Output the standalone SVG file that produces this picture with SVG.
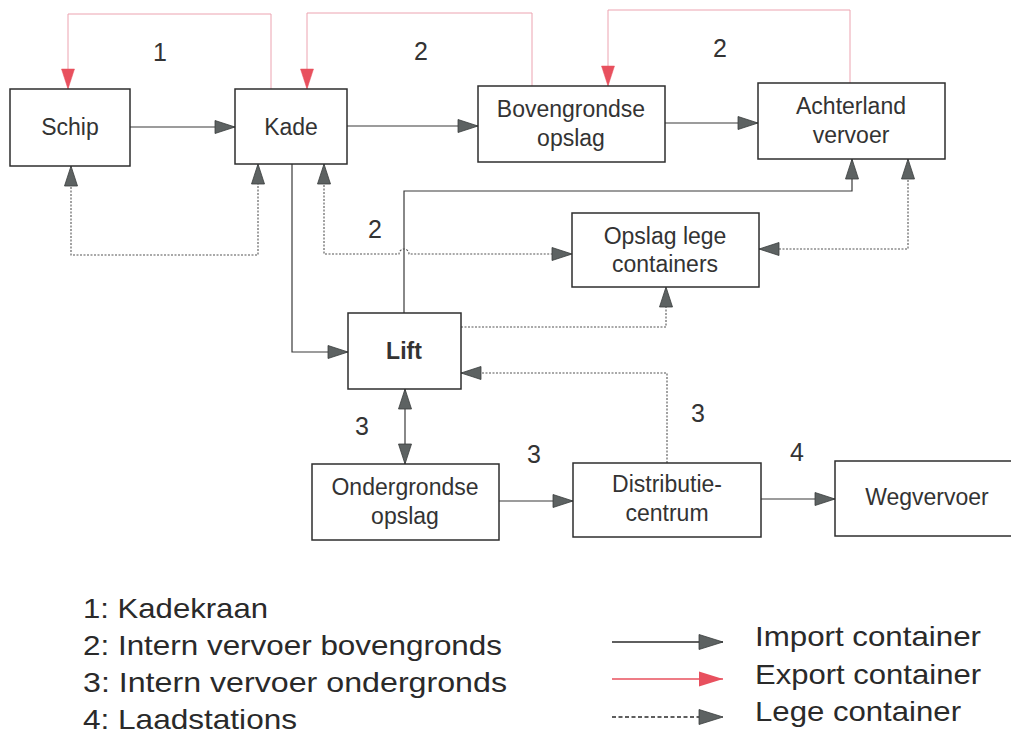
<svg xmlns="http://www.w3.org/2000/svg" width="1011" height="733" viewBox="0 0 1011 733">
<style>
.box{fill:#fff;stroke:#2e2e2e;stroke-width:1.5}
.t{font-family:"Liberation Sans",Arial,sans-serif;font-size:23px;fill:#333;text-anchor:middle}
.num{font-family:"Liberation Sans",Arial,sans-serif;font-size:25px;fill:#333;text-anchor:middle}
.leg{font-family:"Liberation Sans",Arial,sans-serif;font-size:28.5px;fill:#2a2a2a}
.imp{fill:none;stroke:#3a3a3a;stroke-width:1.2}
.emp{fill:none;stroke:#555;stroke-width:1.1;stroke-dasharray:2 1.5}
.exp{fill:none;stroke:#eca3b0;stroke-width:1}
</style>
<defs>
<marker id="ah" markerUnits="userSpaceOnUse" markerWidth="22" markerHeight="15" refX="20" refY="6.5" orient="auto-start-reverse" overflow="visible">
<path d="M0,0 L20,6.5 L0,13 Z" fill="#5d6262" stroke="#3a3d3d" stroke-width="0.8"/>
</marker>
<marker id="ar" markerUnits="userSpaceOnUse" markerWidth="22" markerHeight="15" refX="20" refY="6.5" orient="auto-start-reverse" overflow="visible">
<path d="M0,0 L20,6.5 L0,13 Z" fill="#e8505e" stroke="#e8505e" stroke-width="0.5"/>
</marker>
<marker id="ahl" markerUnits="userSpaceOnUse" markerWidth="26" markerHeight="16" refX="24" refY="7.5" orient="auto" overflow="visible">
<path d="M0,0 L24,7.5 L0,15 Z" fill="#5d6262" stroke="#3a3d3d" stroke-width="0.8"/>
</marker>
<marker id="arl" markerUnits="userSpaceOnUse" markerWidth="26" markerHeight="16" refX="24" refY="7.5" orient="auto" overflow="visible">
<path d="M0,0 L24,7.5 L0,15 Z" fill="#e8505e"/>
</marker>
</defs>
<rect width="1011" height="733" fill="#fff"/>

<g id="connectors">
<path class="exp" d="M271,89 V14 H68 V89" marker-end="url(#ar)"/>
<path class="exp" d="M532,86 V13 H307 V89" marker-end="url(#ar)"/>
<path class="exp" d="M850,83 V10 H608 V86" marker-end="url(#ar)"/>
<path class="imp" d="M130,127 H235" marker-end="url(#ah)"/>
<path class="imp" d="M347,126 H478" marker-end="url(#ah)"/>
<path class="imp" d="M665,123 H758" marker-end="url(#ah)"/>
<path class="imp" d="M292,164 V352 H348" marker-end="url(#ah)"/>
<path class="imp" d="M404,313 V191 H852 V159" marker-end="url(#ah)"/>
<path class="imp" d="M405,389 V464" marker-start="url(#ah)" marker-end="url(#ah)"/>
<path class="imp" d="M499,501 H573" marker-end="url(#ah)"/>
<path class="imp" d="M761,499 H835" marker-end="url(#ah)"/>
<path class="emp" d="M71,166 V255 H258 V164" marker-start="url(#ah)" marker-end="url(#ah)"/>
<path class="emp" d="M324,164 V254 H399 A5,5 0 0 1 409,254 H572" marker-start="url(#ah)" marker-end="url(#ah)"/>
<path class="emp" d="M908,159 V249 H759" marker-start="url(#ah)" marker-end="url(#ah)"/>
<path class="emp" d="M461,327 H666 V287" marker-end="url(#ah)"/>
<path class="emp" d="M667,463 V373 H461" marker-end="url(#ah)"/>
</g>

<g id="node-schip"><rect class="box" x="10" y="89" width="120" height="77"/><text class="t" x="70" y="135">Schip</text></g>
<g id="node-kade"><rect class="box" x="235" y="89" width="112" height="75"/><text class="t" x="291" y="135">Kade</text></g>
<g id="node-bovengrondse"><rect class="box" x="478" y="86" width="187" height="76"/><text class="t" x="571" y="117">Bovengrondse</text><text class="t" x="571" y="146">opslag</text></g>
<g id="node-achterland"><rect class="box" x="758" y="83" width="187" height="76"/><text class="t" x="851" y="114">Achterland</text><text class="t" x="851" y="143">vervoer</text></g>
<g id="node-opslag-lege"><rect class="box" x="572" y="213" width="187" height="74"/><text class="t" x="665" y="244">Opslag lege</text><text class="t" x="665" y="272">containers</text></g>
<g id="node-lift"><rect class="box" x="348" y="313" width="113" height="76"/><text class="t" x="404" y="359" font-weight="bold">Lift</text></g>
<g id="node-ondergrondse"><rect class="box" x="312" y="464" width="187" height="76"/><text class="t" x="405" y="495">Ondergrondse</text><text class="t" x="405" y="524">opslag</text></g>
<g id="node-distributie"><rect class="box" x="573" y="463" width="188" height="74"/><text class="t" x="667" y="492">Distributie-</text><text class="t" x="667" y="521">centrum</text></g>
<g id="node-wegvervoer"><rect class="box" x="835" y="461" width="190" height="75"/><text class="t" x="927" y="505">Wegvervoer</text></g>

<g id="labels">
<text class="num" x="160" y="61">1</text>
<text class="num" x="421" y="60">2</text>
<text class="num" x="720" y="57">2</text>
<text class="num" x="375" y="238">2</text>
<text class="num" x="362" y="435">3</text>
<text class="num" x="534" y="463">3</text>
<text class="num" x="698" y="422">3</text>
<text class="num" x="797" y="461">4</text>
</g>

<g id="legend">
<text class="leg" x="83" y="618" textLength="185" lengthAdjust="spacingAndGlyphs">1: Kadekraan</text>
<text class="leg" x="83" y="655" textLength="419" lengthAdjust="spacingAndGlyphs">2: Intern vervoer bovengronds</text>
<text class="leg" x="83" y="692" textLength="424" lengthAdjust="spacingAndGlyphs">3: Intern vervoer ondergronds</text>
<text class="leg" x="83" y="729" textLength="214" lengthAdjust="spacingAndGlyphs">4: Laadstations</text>
<path d="M612,642 H723" stroke="#2a2a2a" stroke-width="1.3" marker-end="url(#ahl)"/>
<path d="M612,679 H723" stroke="#e8505e" stroke-width="1.5" marker-end="url(#arl)"/>
<path d="M612,717 H723" stroke="#2a2a2a" stroke-width="1.3" stroke-dasharray="4 2.5" marker-end="url(#ahl)"/>
<text class="leg" x="755" y="646" textLength="226" lengthAdjust="spacingAndGlyphs">Import container</text>
<text class="leg" x="755" y="684" textLength="226" lengthAdjust="spacingAndGlyphs">Export container</text>
<text class="leg" x="755" y="721" textLength="206" lengthAdjust="spacingAndGlyphs">Lege container</text>
</g>
</svg>
